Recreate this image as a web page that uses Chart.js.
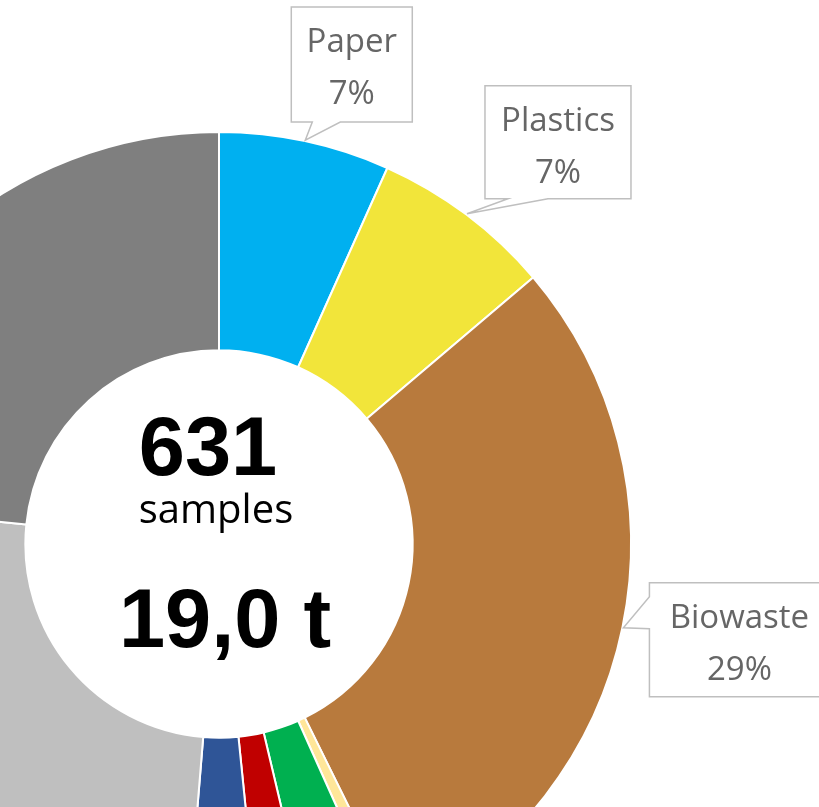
<!DOCTYPE html>
<html>
<head>
<meta charset="utf-8">
<script src="https://cdn.jsdelivr.net/npm/chart.js@4.4.1/dist/chart.umd.min.js"></script>
<style>
  html, body { margin: 0; padding: 0; background: #fff; }
  body { width: 819px; height: 807px; overflow: hidden; position: relative; }
  #waste-chart { position: absolute; left: -194px; top: 0; }
</style>
</head>
<body>
<canvas id="waste-chart" width="1040" height="1000"></canvas>
<script>
// composition by weight, share in percent, clockwise from 12 o'clock
const fractions = ['Paper', 'Plastics', 'Biowaste', 'Wood', 'Glass', 'Hazardous', 'Metals', 'Fines', 'Residual'];
const shares = [6.7, 7.1, 28.9, 0.6, 3.0, 2.1, 2.9, 25.3, 23.4];
const sliceColors = ['#00b0f0', '#f2e53a', '#b87a3d', '#ffe699', '#00b050', '#c00000', '#2f5597', '#bfbfbf', '#7f7f7f'];

const sampleCount = '631';
const sampleUnit = 'samples';
const totalMass = '19,0 t';

// callout boxes, placed relative to the outer mid point of their slice
const callouts = [
  { dx: -14, dy: -133, w: 121, h: 115, side: 'bottom', a: 21, b: 49 },
  { dx: 18, dy: -128, w: 146, h: 113, side: 'bottom', a: 23, b: 63 },
  { dx: 26, dy: -45, w: 180, h: 114, side: 'left', a: 14, b: 46 },
];

function calloutPath(ctx, x, y, w, h, c, tx, ty) {
  ctx.beginPath();
  ctx.moveTo(x, y);
  ctx.lineTo(x + w, y);
  ctx.lineTo(x + w, y + h);
  if (c.side === 'bottom') {
    ctx.lineTo(x + c.b, y + h);
    ctx.lineTo(tx, ty);
    ctx.lineTo(x + c.a, y + h);
  }
  ctx.lineTo(x, y + h);
  if (c.side === 'left') {
    ctx.lineTo(x, y + c.b);
    ctx.lineTo(tx, ty);
    ctx.lineTo(x, y + c.a);
  }
  ctx.closePath();
}

const calloutPlugin = {
  id: 'callouts',
  afterDatasetsDraw(chart) {
    const ctx = chart.ctx;
    const arcs = chart.getDatasetMeta(0).data;
    ctx.save();
    callouts.forEach((c, i) => {
      const arc = arcs[i];
      const mid = (arc.startAngle + arc.endAngle) / 2;
      const tx = arc.x + Math.cos(mid) * (arc.outerRadius + 1);
      const ty = arc.y + Math.sin(mid) * (arc.outerRadius + 1);
      const x = tx + c.dx, y = ty + c.dy;
      calloutPath(ctx, x, y, c.w, c.h, c, tx, ty);
      ctx.fillStyle = '#fff';
      ctx.fill();
      ctx.lineWidth = 1.5;
      ctx.strokeStyle = '#bfbfbf';
      ctx.stroke();
      ctx.fillStyle = '#666';
      ctx.font = '33px "Open Sans", sans-serif';
      ctx.textAlign = 'center';
      ctx.textBaseline = 'alphabetic';
      ctx.fillText(fractions[i], x + c.w / 2, y + 45);
      ctx.fillText(Math.round(shares[i]) + '%', x + c.w / 2, y + 97);
    });
    ctx.restore();
  }
};

const centerPlugin = {
  id: 'centerText',
  afterDatasetsDraw(chart) {
    const ctx = chart.ctx;
    const arc = chart.getDatasetMeta(0).data[0];
    const cx = arc.x, cy = arc.y;
    ctx.save();
    ctx.fillStyle = '#000';
    ctx.textAlign = 'center';
    ctx.textBaseline = 'alphabetic';
    ctx.font = 'bold 83px "Liberation Sans", Arial, sans-serif';
    ctx.fillText(sampleCount, cx - 11, cy - 69);
    ctx.font = '40px "Open Sans", sans-serif';
    ctx.fillText(sampleUnit, cx - 3, cy - 21);
    ctx.font = 'bold 83px "Liberation Sans", Arial, sans-serif';
    ctx.fillText(totalMass, cx + 6, cy + 103);
    ctx.restore();
  }
};

new Chart(document.getElementById('waste-chart'), {
  type: 'doughnut',
  data: {
    labels: fractions,
    datasets: [{
      data: shares,
      backgroundColor: sliceColors,
      borderColor: '#fff',
      borderWidth: 2,
    }],
  },
  options: {
    responsive: false,
    animation: false,
    cutout: '47%',
    layout: { padding: { left: 0, right: 214, top: 131, bottom: 43 } },
    plugins: {
      legend: { display: false },
      tooltip: { enabled: false },
    },
  },
  plugins: [calloutPlugin, centerPlugin],
});
</script>
</body>
</html>
